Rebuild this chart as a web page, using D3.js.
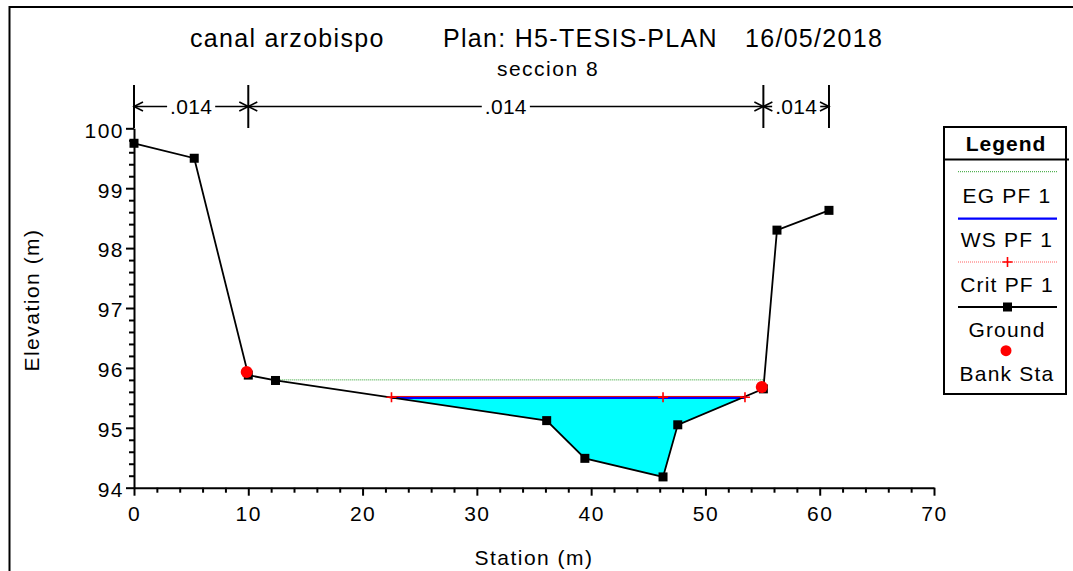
<!DOCTYPE html>
<html><head><meta charset="utf-8">
<script src="https://cdn.jsdelivr.net/npm/d3@7"></script>
<style>
body{margin:0;background:#fff}
svg{display:block}
text{font-family:"Liberation Sans",Arial,sans-serif;fill:#000}
</style>
</head><body>
<svg id="chart" width="1073" height="571"></svg>
<script>
// ---- data ----
const groundSta  = [0, 5.27, 10.0, 12.38, 36.11, 39.45, 46.29, 47.58, 55.07, 56.26, 60.81];
const groundElev = [99.75, 99.50, 95.88, 95.79, 95.12, 94.49, 94.18, 95.05, 95.65, 98.30, 98.63];
const bankSta  = [9.86, 54.93];
const bankElev = [95.93, 95.68];
const wsExtent = [22.53, 53.46];
const wsElev = 95.51;
const egExtent = [12.1, 55.08];
const egElev = 95.80;
const critSta  = [22.53, 46.29, 53.46];
const critElev = [95.51, 95.51, 95.51];
const nBreaks = [0, 10.0, 55.07, 60.81];
const nValues = [".014", ".014", ".014"];
const xTicks = [0, 10, 20, 30, 40, 50, 60, 70];
const yTicks = [94, 95, 96, 97, 98, 99, 100];
const titleParts = ["canal arzobispo", "Plan: H5-TESIS-PLAN", "16/05/2018"];
const subtitle = "seccion 8";
const legendLabels = ["EG PF 1", "WS PF 1", "Crit PF 1", "Ground", "Bank Sta"];

// ---- setup ----
const FS = 21, LS = 1.5;
const svg = d3.select("#chart");
const x = d3.scaleLinear().domain([0, 70]).range([134, 934]);
const y = d3.scaleLinear().domain([94, 100]).range([487.7, 128.3]);

svg.append("rect").attr("width", 1073).attr("height", 571).attr("fill", "#fff");
svg.append("rect").attr("x", 9.5).attr("y", 7).attr("width", 1100).attr("height", 600)
  .attr("fill", "none").attr("stroke", "#000").attr("stroke-width", 2);

// titles
const titleX = [190, 443, 745];
titleParts.forEach((t, i) => {
  svg.append("text").attr("x", titleX[i]).attr("y", 47).attr("font-size", 25)
    .attr("letter-spacing", 1.3).text(t);
});
svg.append("text").attr("x", 548).attr("y", 76).attr("font-size", FS)
  .attr("letter-spacing", LS).attr("text-anchor", "middle").text(subtitle);

// ---- fill of water ----
const fillPts = [[wsExtent[0], wsElev]];
groundSta.forEach((s, i) => { if (s > wsExtent[0] && s < wsExtent[1]) fillPts.push([s, groundElev[i]]); });
fillPts.push([wsExtent[1], wsElev]);
svg.append("path").attr("d", d3.line().x(d => x(d[0])).y(d => y(d[1]))(fillPts) + "Z")
  .attr("fill", "#00ffff").attr("stroke", "none");

// EG line
svg.append("line").attr("x1", x(egExtent[0])).attr("x2", x(egExtent[1]))
  .attr("y1", y(egElev)).attr("y2", y(egElev))
  .attr("stroke", "#2ca02c").attr("stroke-width", 1).attr("stroke-dasharray", "1,1");

// WS line
svg.append("line").attr("x1", x(wsExtent[0])).attr("x2", x(wsExtent[1]))
  .attr("y1", y(wsElev) + 0.7).attr("y2", y(wsElev) + 0.7)
  .attr("stroke", "#0000ff").attr("stroke-width", 2.2);
// Crit line
svg.append("line").attr("x1", x(critSta[0])).attr("x2", x(critSta[critSta.length - 1]))
  .attr("y1", y(critElev[0]) - 0.8).attr("y2", y(critElev[0]) - 0.8)
  .attr("stroke", "#e00000").attr("stroke-width", 1);

// ---- axes ----
const xAxis = svg.append("g").attr("transform", `translate(0,${y(94)})`)
  .call(d3.axisBottom(x).tickValues(xTicks).tickSize(8).tickSizeOuter(0).tickPadding(10).tickFormat(d3.format("d")));
xAxis.select(".domain").attr("stroke-width", 2);
xAxis.selectAll(".tick line").attr("stroke-width", 2);
xAxis.selectAll("text").attr("font-size", FS).attr("letter-spacing", LS)
  .attr("font-family", '"Liberation Sans",Arial,sans-serif').attr("fill", "#000");
const xMinor = d3.range(0, 71, 2).filter(v => v % 10 !== 0);
svg.append("g").attr("transform", `translate(0,${y(94)})`)
  .call(d3.axisBottom(x).tickValues(xMinor).tickSize(5).tickFormat(""))
  .call(g => g.select(".domain").remove())
  .selectAll(".tick line").attr("stroke-width", 2);

const yAxis = svg.append("g").attr("transform", `translate(${x(0)},0)`)
  .call(d3.axisLeft(y).tickValues(yTicks).tickSize(8).tickSizeOuter(0).tickPadding(2).tickFormat(d3.format("d")));
yAxis.select(".domain").attr("stroke-width", 2);
yAxis.selectAll(".tick line").attr("stroke-width", 2);
yAxis.selectAll("text").attr("font-size", FS).attr("letter-spacing", LS).attr("dy", "0.42em")
  .attr("font-family", '"Liberation Sans",Arial,sans-serif').attr("fill", "#000");
const yMinor = d3.range(94, 100.01, 0.2).filter(v => Math.abs(v - Math.round(v)) > 0.01);
svg.append("g").attr("transform", `translate(${x(0)},0)`)
  .call(d3.axisLeft(y).tickValues(yMinor).tickSize(5).tickFormat(""))
  .call(g => g.select(".domain").remove())
  .selectAll(".tick line").attr("stroke-width", 2);

svg.append("text").attr("x", 534).attr("y", 565).attr("font-size", FS).attr("letter-spacing", LS)
  .attr("text-anchor", "middle").text("Station (m)");
svg.append("text").attr("transform", "translate(39,300) rotate(-90)").attr("font-size", FS)
  .attr("letter-spacing", LS).attr("text-anchor", "middle").text("Elevation (m)");

// ---- n-value row ----
const nY = 106.5;
nBreaks.forEach(s => {
  svg.append("line").attr("x1", x(s)).attr("x2", x(s)).attr("y1", 85).attr("y2", s === 0 ? y(100) : 128)
    .attr("stroke", "#000").attr("stroke-width", 2);
});
nValues.forEach((v, i) => {
  const a = x(nBreaks[i]), b = x(nBreaks[i + 1]), m = (a + b) / 2;
  const t = svg.append("text").attr("x", m).attr("y", nY + 7.5).attr("font-size", FS)
    .attr("letter-spacing", 0.3).attr("text-anchor", "middle").text(v);
  const w = t.node().getComputedTextLength();
  const l = m - w / 2 - 3, r = m + w / 2 + 3;
  if (l > a) svg.append("line").attr("x1", a).attr("x2", l).attr("y1", nY).attr("y2", nY).attr("stroke", "#000").attr("stroke-width", 1.6);
  if (r < b) svg.append("line").attr("x1", r).attr("x2", b).attr("y1", nY).attr("y2", nY).attr("stroke", "#000").attr("stroke-width", 1.6);
  svg.append("path").attr("d", `M${a + 9},${nY - 4.5}L${a},${nY}L${a + 9},${nY + 4.5}`)
    .attr("fill", "none").attr("stroke", "#000").attr("stroke-width", 1.6);
  svg.append("path").attr("d", `M${b - 9},${nY - 4.5}L${b},${nY}L${b - 9},${nY + 4.5}`)
    .attr("fill", "none").attr("stroke", "#000").attr("stroke-width", 1.6);
});

// ---- ground ----
const ground = groundSta.map((s, i) => [s, groundElev[i]]);
svg.append("path").attr("d", d3.line().x(d => x(d[0])).y(d => y(d[1]))(ground))
  .attr("fill", "none").attr("stroke", "#000").attr("stroke-width", 1.8);
svg.selectAll(".gpt").data(ground).join("rect").attr("class", "gpt")
  .attr("x", d => x(d[0]) - 4.5).attr("y", d => y(d[1]) - 4.5).attr("width", 9).attr("height", 9).attr("fill", "#000");

// crit markers
const crit = critSta.map((s, i) => [s, critElev[i]]);
svg.selectAll(".cpt").data(crit).join("path").attr("class", "cpt")
  .attr("d", d => `M${x(d[0]) - 5},${y(d[1])}H${x(d[0]) + 5}M${x(d[0])},${y(d[1]) - 5}V${y(d[1]) + 5}`)
  .attr("stroke", "#ff0000").attr("stroke-width", 1.6);

// bank stations
svg.selectAll(".bpt").data(bankSta.map((s, i) => [s, bankElev[i]])).join("circle").attr("class", "bpt")
  .attr("cx", d => x(d[0])).attr("cy", d => y(d[1])).attr("r", 6).attr("fill", "#ff0000");

// ---- legend ----
const lg = svg.append("g");
lg.append("rect").attr("x", 944).attr("y", 127).attr("width", 122).attr("height", 267)
  .attr("fill", "#fff").attr("stroke", "#000").attr("stroke-width", 2);
lg.append("line").attr("x1", 944).attr("x2", 1069).attr("y1", 159.5).attr("y2", 159.5)
  .attr("stroke", "#000").attr("stroke-width", 2);
lg.append("text").attr("x", 1006).attr("y", 151).attr("font-size", FS).attr("font-weight", "bold")
  .attr("letter-spacing", 1).attr("text-anchor", "middle").text("Legend");
const symY = [171.7, 218.7, 262, 307, 350.7];
const txtY = [203.3, 247.3, 291.7, 336.7, 381];
const lx1 = 958, lx2 = 1057, lxm = 1007.5;
lg.append("line").attr("x1", lx1).attr("x2", lx2).attr("y1", symY[0]).attr("y2", symY[0])
  .attr("stroke", "#2ca02c").attr("stroke-width", 1).attr("stroke-dasharray", "1,1");
lg.append("line").attr("x1", lx1).attr("x2", lx2).attr("y1", symY[1]).attr("y2", symY[1])
  .attr("stroke", "#0000ff").attr("stroke-width", 2.2);
lg.append("line").attr("x1", lx1).attr("x2", lx2).attr("y1", symY[2]).attr("y2", symY[2])
  .attr("stroke", "#ff6060").attr("stroke-width", 1).attr("stroke-dasharray", "1,1");
lg.append("path").attr("d", `M${lxm - 5},${symY[2]}H${lxm + 5}M${lxm},${symY[2] - 5}V${symY[2] + 5}`)
  .attr("stroke", "#ff0000").attr("stroke-width", 1.6);
lg.append("line").attr("x1", lx1).attr("x2", lx2).attr("y1", symY[3]).attr("y2", symY[3])
  .attr("stroke", "#000").attr("stroke-width", 1.8);
lg.append("rect").attr("x", lxm - 4.5).attr("y", symY[3] - 4.5).attr("width", 9).attr("height", 9).attr("fill", "#000");
lg.append("circle").attr("cx", 1006).attr("cy", symY[4]).attr("r", 5.5).attr("fill", "#ff0000");
legendLabels.forEach((t, i) => {
  lg.append("text").attr("x", 1007).attr("y", txtY[i]).attr("font-size", FS).attr("letter-spacing", 1.2)
    .attr("text-anchor", "middle").text(t);
});
</script>
</body></html>
